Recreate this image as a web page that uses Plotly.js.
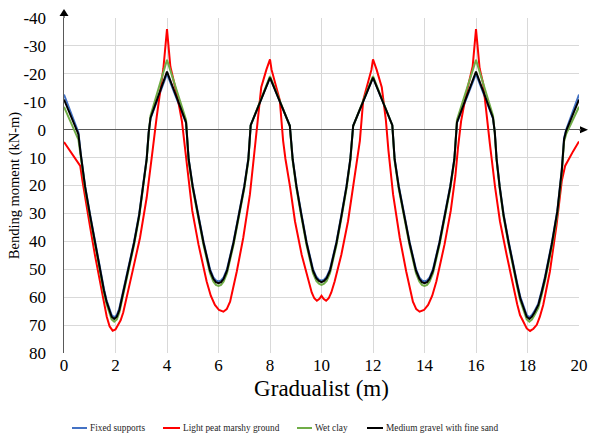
<!DOCTYPE html>
<html>
<head>
<meta charset="utf-8">
<script src="https://cdn.plot.ly/plotly-3.0.1.min.js"></script>
<style>html,body{margin:0;padding:0;background:#fff}#chart{width:590px;height:434px}</style>
</head>
<body>
<div id="chart"></div>
<script>
// ---- data ----
const seriesNames = ['Fixed supports', 'Light peat marshy ground', 'Wet clay', 'Medium gravel with fine sand'];
const xTicks = [0, 2, 4, 6, 8, 10, 12, 14, 16, 18, 20];
const yTicks = [-40, -30, -20, -10, 0, 10, 20, 30, 40, 50, 60, 70, 80];

// shared positions for Fixed supports, Wet clay and Medium gravel
const xSoil = [0,0.56,0.65,0.82,1.01,1.2,1.4,1.55,1.65,1.75,1.85,1.95,2.05,2.15,2.25,2.38,2.5,2.72,2.92,3.08,3.21,3.29,3.36,4.0,4.74,4.84,5.0,5.21,5.42,5.67,5.8,5.9,6.0,6.1,6.2,6.33,6.58,6.79,7.0,7.16,7.25,8.0,8.77,8.88,9.03,9.22,9.42,9.67,9.8,9.9,10.0,10.1,10.2,10.33,10.58,10.78,10.97,11.12,11.23,12.0,12.75,12.84,13.0,13.21,13.42,13.67,13.8,13.9,14.0,14.1,14.2,14.33,14.58,14.79,15.0,15.16,15.26,16.0,16.66,16.73,16.8,16.92,17.07,17.27,17.47,17.6,17.72,17.87,17.97,18.07,18.17,18.27,18.42,18.55,18.68,18.94,19.16,19.33,19.42,19.5,20];

const yFixed = [-12.6,1.0,8.6,20.2,30.3,40.2,50.0,57.0,61.0,64.0,66.4,67.2,66.4,64.0,59.9,55.0,50.0,40.2,30.2,20.2,10.3,0.8,-4.0,-20.0,-2.4,10.4,20.2,30.2,40.2,50.0,52.9,54.0,54.4,54.0,52.9,50.0,40.2,30.2,20.2,10.3,-1.6,-18.6,-1.4,10.4,20.2,30.2,40.2,50.0,52.7,53.7,54.1,53.7,52.7,50.0,40.2,30.2,20.2,10.4,-1.4,-18.6,-1.6,10.3,20.2,30.2,40.2,50.0,52.9,54.0,54.4,54.0,52.9,50.0,40.2,30.2,20.2,10.4,-2.4,-20.0,-4.0,0.8,10.3,20.2,30.2,40.2,50.0,55.0,59.9,64.0,66.4,67.2,66.4,65.0,62.3,57.7,52.7,40.8,28.9,14.5,3.0,0.0,-12.6];

const yWetClay = [-8.2,3.6,9.6,21.2,31.3,41.3,51.3,58.4,62.4,65.5,68.0,68.8,68.0,65.5,61.3,56.4,51.3,41.3,31.2,21.0,11.0,1.4,-5.0,-25.0,-3.5,11.2,21.2,31.3,41.4,51.4,54.4,55.6,56.0,55.6,54.4,51.4,41.4,31.3,21.2,11.2,-1.5,-19.2,-1.3,11.2,21.2,31.3,41.4,51.4,54.2,55.2,55.6,55.2,54.2,51.4,41.4,31.3,21.2,11.2,-1.3,-19.2,-1.5,11.2,21.2,31.3,41.4,51.4,54.4,55.6,56.0,55.6,54.4,51.4,41.4,31.3,21.2,11.2,-3.5,-25.0,-5.0,1.4,11.0,21.0,31.2,41.3,51.3,56.4,61.3,65.5,68.0,68.8,68.0,66.5,63.8,59.2,54.2,42.2,30.2,15.6,4.2,1.6,-8.2];

const yGravel = [-10.8,1.6,8.8,20.5,30.6,40.6,50.5,57.5,61.5,64.6,67.0,67.8,67.0,64.6,60.4,55.5,50.5,40.6,30.6,20.5,10.6,1.0,-4.2,-20.8,-2.6,10.6,20.5,30.6,40.6,50.5,53.4,54.6,55.0,54.6,53.4,50.5,40.6,30.6,20.5,10.6,-1.6,-18.6,-1.4,10.6,20.5,30.6,40.6,50.5,53.2,54.2,54.6,54.2,53.2,50.5,40.6,30.6,20.5,10.6,-1.4,-18.6,-1.6,10.6,20.5,30.6,40.6,50.5,53.4,54.6,55.0,54.6,53.4,50.5,40.6,30.6,20.5,10.6,-2.6,-20.8,-4.2,1.0,10.6,20.5,30.6,40.6,50.5,55.5,60.4,64.6,67.0,67.8,67.0,65.5,62.8,58.2,53.2,41.2,29.2,14.8,3.4,0.4,-10.8];

const xPeat = [0,0.2,0.36,0.5,0.63,0.72,0.82,1.01,1.2,1.42,1.55,1.66,1.77,1.89,2.0,2.11,2.2,2.3,2.43,2.69,2.95,3.21,3.44,3.6,3.86,4.0,4.13,4.4,4.58,4.7,4.8,4.98,5.22,5.54,5.7,5.86,6.02,6.19,6.32,6.45,6.71,6.96,7.22,7.4,7.5,7.66,7.86,8.0,8.06,8.25,8.38,8.51,8.6,8.78,8.97,9.23,9.49,9.62,9.72,9.82,9.92,10.0,10.08,10.18,10.28,10.38,10.51,10.77,11.03,11.22,11.4,11.49,11.62,11.75,11.94,12.0,12.14,12.34,12.5,12.6,12.78,13.04,13.29,13.55,13.68,13.81,13.98,14.14,14.3,14.46,14.78,15.02,15.2,15.3,15.42,15.6,15.87,16.0,16.14,16.28,16.39,16.54,16.74,16.93,17.19,17.45,17.6,17.71,17.84,17.97,18.1,18.23,18.36,18.48,18.61,18.87,19.13,19.33,19.46,19.62,19.78,20];
const yPeat = [4.4,7.2,9.4,11.2,13.0,18.5,24.4,34.6,44.8,55.6,62.0,67.0,70.4,72.0,71.6,70.0,68.3,65.5,60.4,49.6,38.8,24.4,7.5,-4.6,-22.0,-36.0,-22.6,-12.0,-3.0,6.5,16.5,29.0,41.0,54.4,59.5,62.8,64.6,65.2,64.3,61.6,50.8,38.8,23.2,7.5,-3.4,-15.2,-21.5,-25.2,-21.5,-15.0,-10.6,4.0,10.5,20.5,32.8,44.8,54.4,58.3,60.4,61.3,60.6,59.5,60.6,61.3,60.4,58.3,54.4,44.8,32.8,20.5,10.5,4.0,-10.6,-15.0,-21.5,-25.2,-21.5,-15.2,-3.4,7.5,23.2,38.8,50.8,61.6,64.3,65.2,64.6,62.8,59.5,54.4,41.0,29.0,16.5,6.5,-3.0,-12.0,-22.6,-36.0,-22.0,-16.4,-6.8,5.2,20.5,32.8,44.8,56.8,62.5,66.4,68.8,71.2,72.1,71.3,69.9,67.0,62.8,50.8,34.0,18.4,13.0,10.0,7.6,4.2];

const seriesColors = ['#4472C4', '#FF0000', '#70AD47', '#000000'];

// ---- chart ----
const serif = 'Liberation Serif';
const traces = [
  {x: xSoil, y: yFixed,   name: seriesNames[0], mode: 'lines', line: {color: seriesColors[0], width: 2}},
  {x: xPeat, y: yPeat,    name: seriesNames[1], mode: 'lines', line: {color: seriesColors[1], width: 2}},
  {x: xSoil, y: yWetClay, name: seriesNames[2], mode: 'lines', line: {color: seriesColors[2], width: 2}},
  {x: xSoil, y: yGravel,  name: seriesNames[3], mode: 'lines', line: {color: seriesColors[3], width: 2}}
];

// plot area in pixels: left 64, right 579, top 18, bottom 353
const pw = 515, ph = 335;
const px = v => v / pw, py = v => v / ph;
const zeroY = 80 / 120; // paper y of the zero line

const legendY = -75 / ph;
const legendItems = [
  {x0: 8, x1: 23, tx: 24},
  {x0: 99, x1: 116, tx: 117},
  {x0: 233, x1: 248, tx: 249},
  {x0: 303, x1: 319, tx: 320}
];
const shapes = [
  {type: 'line', xref: 'paper', yref: 'paper', x0: 0, x1: 0, y0: 1, y1: 1 + py(3), line: {color: '#595959', width: 1.5}},
  {type: 'path', xref: 'paper', yref: 'paper', path: `M 0 ${1 + py(9)} L ${-px(4.5)} ${1 + py(2)} L ${px(4.5)} ${1 + py(2)} Z`, fillcolor: '#000', line: {width: 0}},
  {type: 'path', xref: 'paper', yref: 'paper', path: `M ${1 + px(9)} ${zeroY} L ${1 + px(1)} ${zeroY + py(3.5)} L ${1 + px(1)} ${zeroY - py(3.5)} Z`, fillcolor: '#000', line: {width: 0}},
  {type: 'line', xref: 'paper', yref: 'paper', x0: 1, x1: 1 + px(2), y0: zeroY, y1: zeroY, line: {color: '#595959', width: 1.5}}
];
const annotations = [];
legendItems.forEach((it, i) => {
  shapes.push({type: 'line', xref: 'paper', yref: 'paper', x0: px(it.x0), x1: px(it.x1), y0: legendY, y1: legendY, line: {color: seriesColors[i], width: 2}});
  annotations.push({xref: 'paper', yref: 'paper', x: px(it.tx), y: legendY, xanchor: 'left', yanchor: 'middle', showarrow: false, text: seriesNames[i], font: {family: serif, size: 9.3, color: '#262626'}});
});

const layout = {
  width: 590, height: 434,
  margin: {l: 64, r: 11, t: 18, b: 81},
  paper_bgcolor: '#ffffff', plot_bgcolor: '#ffffff',
  font: {family: serif, color: '#000'},
  showlegend: false,
  xaxis: {
    range: [0, 20], tickvals: xTicks, ticktext: xTicks.map(String),
    showgrid: true, gridcolor: '#d9d9d9', gridwidth: 1,
    zeroline: false, showline: false, ticks: '',
    tickfont: {family: serif, size: 17, color: '#000'},
    title: {text: 'Gradualist (m)', font: {family: serif, size: 23, color: '#000'}, standoff: 5}
  },
  yaxis: {
    range: [80, -40], tickvals: yTicks, ticktext: yTicks.map(String),
    showgrid: true, gridcolor: '#d9d9d9', gridwidth: 1,
    zeroline: true, zerolinecolor: '#595959', zerolinewidth: 1.5,
    showline: true, linecolor: '#595959', linewidth: 1.5, ticks: '',
    ticklabelstandoff: 13,
    tickfont: {family: serif, size: 17, color: '#000'},
    title: {text: 'Bending moment (kN-m)', font: {family: serif, size: 14.5, color: '#000'}, standoff: 0}
  },
  shapes: shapes,
  annotations: annotations
};

Plotly.newPlot('chart', traces, layout, {displayModeBar: false, staticPlot: true});
</script>
</body>
</html>
